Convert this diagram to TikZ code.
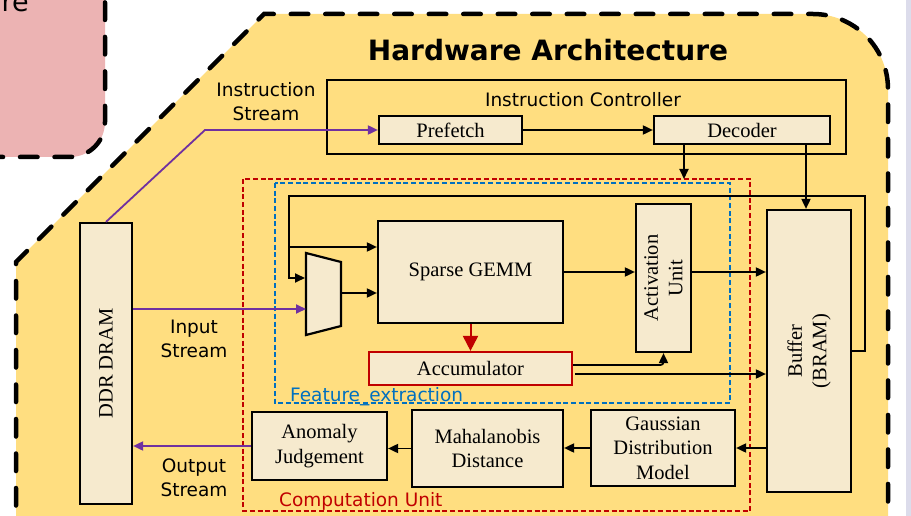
\documentclass[tikz,border=0pt]{standalone}
\usepackage{fontspec}
\setmainfont{Liberation Serif}
\newfontfamily\dvs{DejaVu Sans}
\usetikzlibrary{arrows.meta}
\definecolor{yel}{RGB}{255,222,128}
\definecolor{cream}{RGB}{246,234,206}
\definecolor{pinkf}{RGB}{236,179,179}
\definecolor{lav}{RGB}{220,220,235}
\definecolor{purp}{RGB}{112,48,160}
\definecolor{redd}{RGB}{192,0,0}
\definecolor{blued}{RGB}{0,112,192}
\begin{document}
\begin{tikzpicture}[x=1pt,y=-1pt,
  bigdash/.style={line width=4.5pt, dash pattern=on 17.5pt off 17pt, line cap=round},
  blk/.style={draw=black, line width=2.2pt, fill=cream, inner sep=0pt, align=center, font=\fontsize{20.5}{24.5}\selectfont},
  rlab/.style={inner sep=0pt, align=center, rotate=90, font=\fontsize{20.5}{24.5}\selectfont},
  arr/.style={line width=1.8pt, -{Triangle[length=10pt,width=9pt]}},
  parr/.style={draw=purp, line width=1.8pt, -{Triangle[length=10pt,width=9pt]}},
  sf/.style={font=\dvs\fontsize{18.5}{24}\selectfont, inner sep=0pt, align=center},
  thindash/.style={line width=2pt, dash pattern=on 5pt off 2.7pt},
]
\useasboundingbox (0,0) rectangle (911,516);
\fill[white] (0,0) rectangle (911,516);
\fill[lav] (906,0) rectangle (911,516);
% pink region
\draw[bigdash, fill=pinkf, rounded corners=35] (-40,-40) rectangle (105,157);
\node[font=\dvs\fontsize{27}{30}\selectfont, anchor=base east, inner sep=0pt] (sw) at (29,12) {re};
% yellow region
\draw[bigdash, fill=yel] (16,540) -- (16,262) -- (264,14) -- (813,14) arc[start angle=-90, end angle=0, radius=75] -- (888,540);
% title
\node[font=\dvs\bfseries\fontsize{28}{32}\selectfont, inner sep=0pt] (title) at (548,50) {Hardware Architecture};
% dashed units
\draw[redd, thindash] (243,179) rectangle (750,511);
\draw[blued, thindash] (275,183) rectangle (730,403);
\node[sf, text=blued, anchor=base west] (fe) at (290,401) {Feature\_extraction};
\node[sf, text=redd, anchor=base west] (cu) at (279,506) {Computation Unit};
% instruction controller
\node[draw=black, line width=2.2pt, minimum width=519pt, minimum height=74pt, inner sep=0pt] (ic) at (586.5,117) {};
\node[sf] (icl) at (583,100) {Instruction Controller};
\node[blk, minimum width=143pt, minimum height=28pt] (prefetch) at (450.5,130) {Prefetch};
\node[blk, minimum width=176pt, minimum height=28pt] (decoder) at (742,130) {Decoder};
% stream labels
\node[sf] (isl) at (266,102) {Instruction\\Stream};
\node[sf] (inl) at (194,338.5) {Input\\Stream};
\node[sf] (outl) at (194,477.5) {Output\\Stream};
% blocks
\node[blk, minimum width=52pt, minimum height=281pt] (ddr) at (106,363.5) {};
\node[rlab] (ddrl) at (ddr.center) {DDR DRAM};
\node[blk, minimum width=185pt, minimum height=102pt] (gemm) at (470.5,272) {Sparse GEMM};
\node[blk, draw=redd, minimum width=203pt, minimum height=33pt] (accum) at (470.5,368.5) {Accumulator};
\node[blk, minimum width=55pt, minimum height=148pt] (act) at (663.5,278) {};
\node[rlab] (actl) at (act.center) {Activation\\Unit};
\node[blk, minimum width=84pt, minimum height=282pt] (buffer) at (809,351) {};
\node[rlab] (bufl) at (buffer.center) {Buffer\\(BRAM)};
\node[blk, minimum width=144pt, minimum height=76pt] (gauss) at (663,448) {Gaussian\\Distribution\\Model};
\node[blk, minimum width=151pt, minimum height=77pt] (mahal) at (487.5,448.5) {Mahalanobis\\Distance};
\node[blk, minimum width=135pt, minimum height=68pt] (anom) at (319.5,446) {Anomaly\\Judgement};
% mux
\coordinate (m1) at (306,253);
\coordinate (m2) at (341,262);
\coordinate (m3) at (341,326);
\coordinate (m4) at (306,335);
\draw[line width=2.2pt, fill=cream, line join=miter] (m1) -- (m2) -- (m3) -- (m4) -- cycle;
\coordinate (muxin) at (306,309);
\coordinate (muxfb) at (305,278);
\coordinate (muxout) at (341,293);
% coordinates
\coordinate (bend1) at (205,130);
\coordinate (dtop) at (684,179);
\coordinate (bx) at (806,0);
\coordinate (fbR) at (865,196);
\coordinate (fbL) at (289,196);
\coordinate (fbB) at (289,247);
\coordinate (acb) at (575,374);
% purple connectors
\draw[parr] (ddr.north) -- (bend1) -- (prefetch.west);
\draw[parr] (muxin -| ddr.east) -- (muxin);
\draw[parr] (anom.west) -- (anom.west -| ddr.east);
% black connectors
\draw[arr] (prefetch.east) -- (decoder.west);
\draw[arr] (dtop |- decoder.south) -- (dtop);
\draw[arr] (decoder.south -| bx) -- (buffer.north -| bx);
\draw[arr] (buffer.east) -| (fbR) -- (fbL) |- (muxfb);
\draw[arr] (fbB) -- (fbB -| gemm.west);
\draw[arr] (muxout) -- (muxout -| gemm.west);
\draw[arr] (gemm.east) -- (gemm.east -| act.west);
\draw[arr] (act.east |- gemm.east) -- (buffer.west |- gemm.east);
\draw[arr, rounded corners=3pt] ([yshift=3.5pt]accum.east) -| (act.south);
\draw[arr] (acb) -- (acb -| buffer.west);
\draw[arr] (buffer.west |- gauss.east) -- (gauss.east);
\draw[arr] (gauss.west) -- (gauss.west -| mahal.east);
\draw[arr] (mahal.west) -- (mahal.west -| anom.east);
\draw[redd, line width=2pt, -{Triangle[length=15pt,width=15pt]}] (gemm.south) -- (accum.north);
\end{tikzpicture}
\end{document}
